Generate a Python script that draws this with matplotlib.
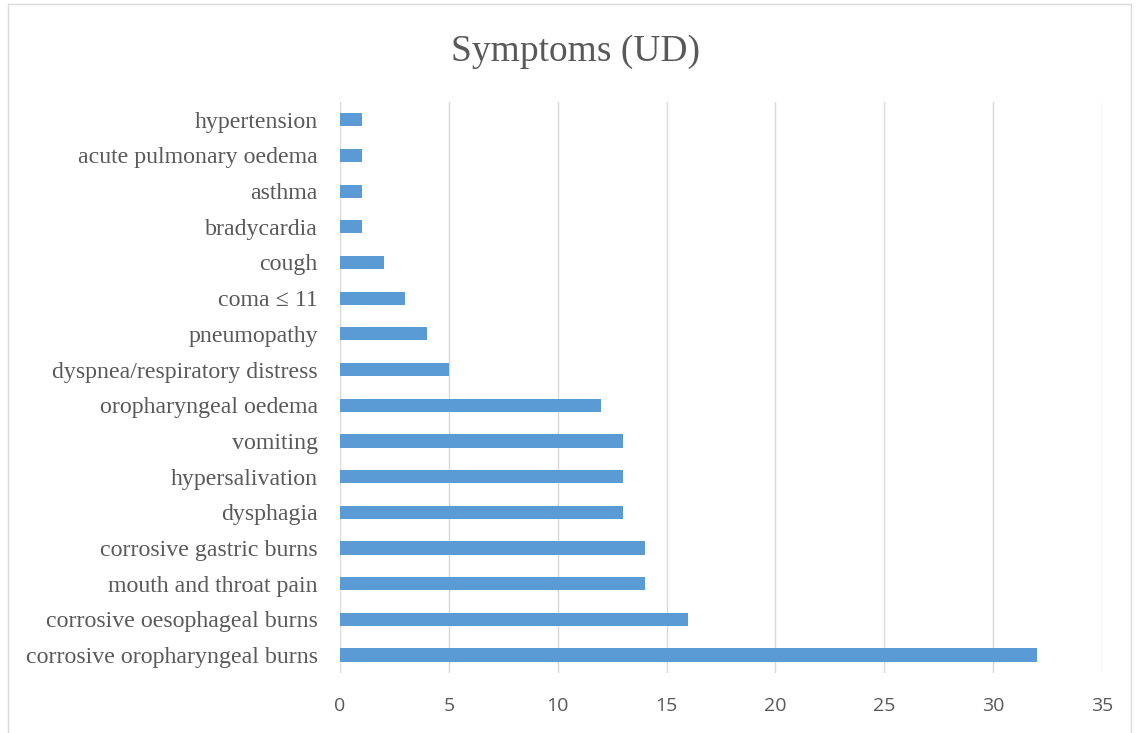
import matplotlib.pyplot as plt
from matplotlib.patches import Rectangle

# Symptoms (UD) - horizontal bars, bottom to top
symptoms = [
    "corrosive oropharyngeal burns",
    "corrosive oesophageal burns",
    "mouth and throat pain",
    "corrosive gastric burns",
    "dysphagia",
    "hypersalivation",
    "vomiting",
    "oropharyngeal oedema",
    "dyspnea/respiratory distress",
    "pneumopathy",
    "coma \u2264 11",
    "cough",
    "bradycardia",
    "asthma",
    "acute pulmonary oedema",
    "hypertension",
]
counts = [32, 16, 14, 14, 13, 13, 13, 12, 5, 4, 3, 2, 1, 1, 1, 1]
xticks = [0, 5, 10, 15, 20, 25, 30, 35]

fig = plt.figure(figsize=(11.39, 7.33), dpi=100)
ax = fig.add_axes([0.2985, 0.082, 0.669, 0.779])

pos = range(len(symptoms))
ax.barh(pos, counts, height=0.37, color="#5b9bd5", zorder=3)

ax.set_xlim(0, 35)
ax.set_ylim(-0.5, len(symptoms) - 0.5)
ax.set_xticks(xticks)
ax.set_xticklabels([str(t) for t in xticks], family="Open Sans", fontsize=14, color="#595959")
ax.set_yticks(list(pos))
ax.set_yticklabels(symptoms, family="Liberation Serif", fontsize=17.2, color="#595959")
ax.tick_params(axis="x", length=0, pad=17)
ax.tick_params(axis="y", length=0, pad=16)
ax.grid(axis="x", color="#d9d9d9", linewidth=1, zorder=0)
for s in ax.spines.values():
    s.set_visible(False)

fig.text(0.505, 0.929, "Symptoms (UD)", ha="center", va="center",
         family="Liberation Serif", fontsize=27, color="#595959")

# chart border
fig.patches.append(Rectangle((0.007, -0.01), 0.986, 1.004, transform=fig.transFigure,
                             fill=False, edgecolor="#d9d9d9", linewidth=1))

fig.savefig("out.png", dpi=100)
